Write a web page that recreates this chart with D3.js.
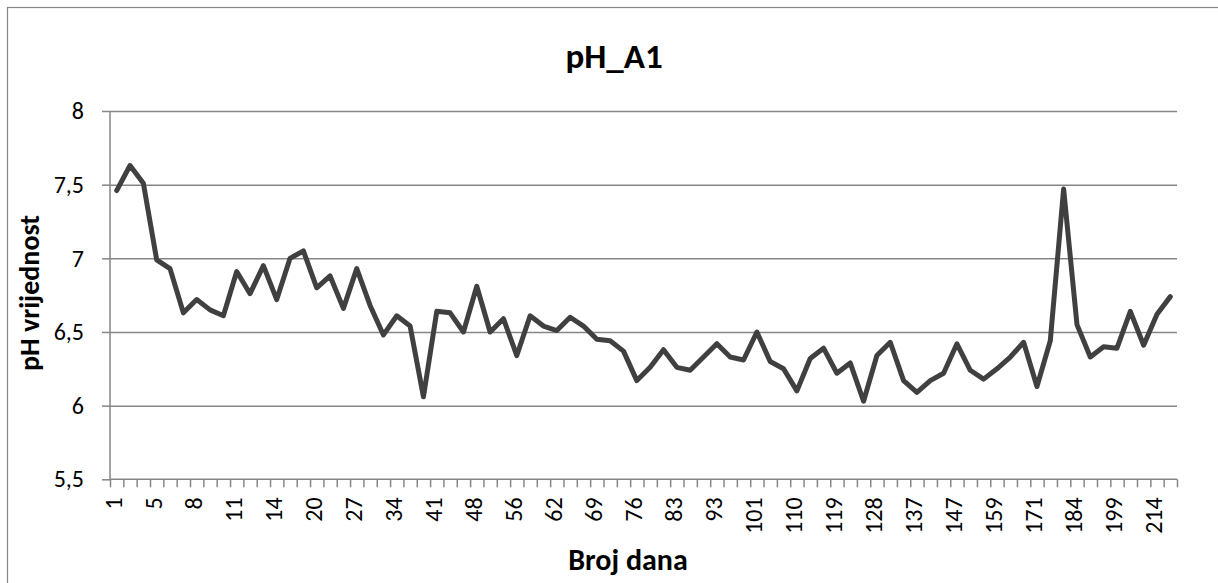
<!DOCTYPE html>
<html>
<head>
<meta charset="utf-8">
<script src="https://cdn.jsdelivr.net/npm/d3@7"></script>
<style>
    body { margin: 0; background: #fff; }
    svg { display: block; font-family: Calibri, Carlito, Lato, "Open Sans", sans-serif; }
</style>
</head>
<body>
<div id="chart"></div>
<script>
// broj dana (kategorije na osi x)
var days = [1, 3, 4, 5, 6, 7, 8, 9, 10, 11, 12, 13, 14, 16, 18, 20, 22, 25, 27, 29,
    32, 34, 36, 39, 41, 43, 46, 48, 50, 53, 56, 58, 60, 62, 64, 67, 69, 71, 74, 76,
    78, 81, 83, 86, 90, 93, 96, 98, 101, 104, 107, 110, 113, 116, 119, 122, 125, 128, 131, 134,
    137, 140, 143, 147, 151, 155, 159, 163, 167, 171, 175, 180, 184, 189, 194, 199, 204, 209, 214, 219];

// pH vrijednosti
var phValues = [7.46, 7.63, 7.51, 6.99, 6.93, 6.63, 6.72, 6.65, 6.61, 6.91,
    6.76, 6.95, 6.72, 7.00, 7.05, 6.80, 6.88, 6.66, 6.93, 6.68,
    6.48, 6.61, 6.54, 6.06, 6.64, 6.63, 6.50, 6.81, 6.50, 6.59,
    6.34, 6.61, 6.54, 6.51, 6.60, 6.54, 6.45, 6.44, 6.37, 6.17,
    6.26, 6.38, 6.26, 6.24, 6.33, 6.42, 6.33, 6.31, 6.50, 6.30,
    6.25, 6.10, 6.32, 6.39, 6.22, 6.29, 6.03, 6.34, 6.43, 6.17,
    6.09, 6.17, 6.22, 6.42, 6.24, 6.18, 6.25, 6.33, 6.43, 6.13,
    6.44, 7.47, 6.55, 6.33, 6.40, 6.39, 6.64, 6.41, 6.62, 6.74];

var yTicks = [5.5, 6, 6.5, 7, 7.5, 8];

var chartTitle = "pH_A1";
var xTitle = "Broj dana";
var yTitle = "pH vrijednost";

var width = 1218, height = 583;
var plot = { left: 110, right: 1177, top: 111, bottom: 479.3 };
var tickFont = "Calibri, Carlito, Lato, sans-serif";

var svg = d3.select("#chart").append("svg")
    .attr("width", width)
    .attr("height", height);

// okvir grafikona (desni i donji rub su izvan slike)
svg.append("rect")
    .attr("x", 7.5).attr("y", 7.5)
    .attr("width", width + 20).attr("height", height + 20)
    .attr("fill", "none")
    .attr("stroke", "#868686")
    .attr("stroke-width", 1.2);

var x = d3.scaleBand()
    .domain(days)
    .range([plot.left, plot.right])
    .padding(0);

// granice kategorija za crtice
var xEdges = d3.scaleLinear()
    .domain([0, days.length])
    .range([plot.left, plot.right]);

var y = d3.scaleLinear()
    .domain([5.5, 8])
    .range([plot.bottom, plot.top]);

var hr = d3.formatLocale({ decimal: ",", thousands: ".", grouping: [3], currency: ["", " kn"] });
var fmt = hr.format(".1~f");

// mreža
svg.append("g")
    .attr("class", "grid")
    .attr("transform", "translate(" + plot.left + ",0)")
    .call(d3.axisLeft(y).tickValues(yTicks.slice(1)).tickSize(-(plot.right - plot.left)).tickFormat(""))
    .call(function (g) {
        g.select(".domain").remove();
        g.selectAll("line").attr("stroke", "#868686").attr("stroke-width", 1.5);
    });

// os y
svg.append("g")
    .attr("transform", "translate(" + plot.left + ",0)")
    .call(d3.axisLeft(y).tickValues(yTicks).tickSize(8).tickPadding(18).tickFormat(fmt))
    .call(function (g) {
        g.select(".domain").attr("d", "M0," + plot.top + "V" + plot.bottom)
            .attr("stroke", "#868686").attr("stroke-width", 1.5);
        g.selectAll("line").attr("stroke", "#868686").attr("stroke-width", 1.5);
        g.selectAll("text").attr("font-size", 24).attr("fill", "#000")
            .style("font-family", tickFont);
    });

// os x - crtice
svg.append("g")
    .attr("transform", "translate(0," + plot.bottom + ")")
    .call(d3.axisBottom(xEdges).tickValues(d3.range(days.length + 1)).tickSize(8).tickFormat(""))
    .call(function (g) {
        g.select(".domain").attr("d", "M" + plot.left + ",0H" + plot.right)
            .attr("stroke", "#868686").attr("stroke-width", 1.5);
        g.selectAll("line").attr("stroke", "#868686").attr("stroke-width", 1.5);
    });

// os x - oznake (svaka treća)
svg.append("g")
    .attr("transform", "translate(0," + plot.bottom + ")")
    .call(d3.axisBottom(x).tickValues(days.filter(function (d, i) { return i % 3 === 0; })).tickSize(0).tickFormat(function (d) { return d; }))
    .call(function (g) {
        g.select(".domain").remove();
        g.selectAll("text")
            .attr("font-size", 24)
            .attr("fill", "#000")
            .style("font-family", tickFont)
            .attr("text-anchor", "end")
            .attr("transform", "translate(-3,18) rotate(-90)")
            .attr("x", 0)
            .attr("y", 0)
            .attr("dy", "0.35em");
    });

// linija
var line = d3.line()
    .x(function (d, i) { return x(days[i]) + x.bandwidth() / 2; })
    .y(function (d) { return y(d); });

svg.append("path")
    .datum(phValues)
    .attr("d", line)
    .attr("fill", "none")
    .attr("stroke", "#404040")
    .attr("stroke-width", 5)
    .attr("stroke-linejoin", "round")
    .attr("stroke-linecap", "round");

// naslovi
svg.append("text")
    .attr("x", 614).attr("y", 68)
    .attr("text-anchor", "middle")
    .attr("font-size", 35)
    .attr("font-weight", "bold")
    .text(chartTitle);

svg.append("text")
    .attr("x", 628).attr("y", 570)
    .attr("text-anchor", "middle")
    .attr("font-size", 30)
    .attr("font-weight", "bold")
    .text(xTitle);

svg.append("text")
    .attr("transform", "translate(39,293) rotate(-90)")
    .attr("text-anchor", "middle")
    .attr("font-size", 28)
    .attr("font-weight", "bold")
    .text(yTitle);
</script>
</body>
</html>
